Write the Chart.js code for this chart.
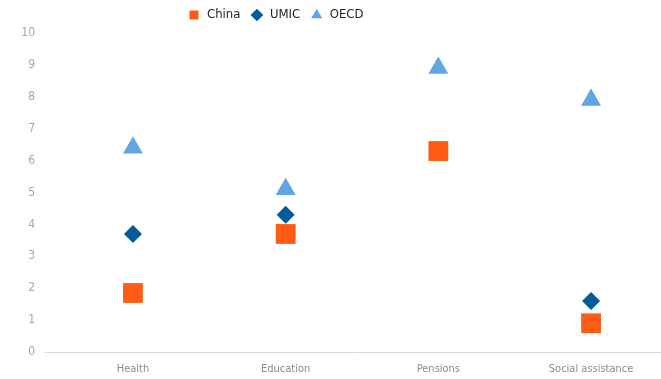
<!DOCTYPE html>
<html>
<head>
<meta charset="utf-8">
<script src="https://cdn.jsdelivr.net/npm/chart.js@4/dist/chart.umd.min.js"></script>
<style>
  html, body { margin: 0; padding: 0; background: #fff; }
  #wrap { width: 661px; height: 379px; }
</style>
</head>
<body>
<div id="wrap"><canvas id="chart"></canvas></div>
<script>
// Spending by function, per cent of GDP
const categories = ["Health", "Education", "Pensions", "Social assistance"]
const china = [1.85, 3.7, 6.3, 0.9]
const umic = [3.7, 4.3, null, 1.6]
const oecd = [6.4, 5.1, 8.9, 7.9]
const yTicks = [0, 1, 2, 3, 4, 5, 6, 7, 8, 9, 10]

const labelFont = "'DejaVu Sans Condensed', 'Liberation Sans', Arial, sans-serif"

// index -> {x, y} pairs for the linear category axis
const toPoints = values => values.map((v, i) => ({ x: i, y: v }))

// nudge the legend left of the canvas centre and a touch up
const legendShift = {
  id: 'legendShift',
  afterLayout(chart) {
    const legend = chart.legend
    if (!legend) return
    legend.left -= 55
    legend.right -= 55
    legend.top -= 1.5
    legend.bottom -= 1.5
  }
}

new Chart(document.getElementById('chart'), {
  type: 'scatter',
  data: {
    datasets: [{
      label: 'China',
      data: toPoints(china),
      pointStyle: 'rect',
      pointRadius: 14,
      pointHoverRadius: 14,
      backgroundColor: '#ff5b16',
      borderColor: '#ff5b16',
      borderWidth: 0
    }, {
      label: 'UMIC',
      data: toPoints(umic),
      pointStyle: 'rectRot',
      pointRadius: 9,
      pointHoverRadius: 9,
      backgroundColor: '#005d99',
      borderColor: '#005d99',
      borderWidth: 0
    }, {
      label: 'OECD',
      data: toPoints(oecd),
      pointStyle: 'triangle',
      pointRadius: 11.5,
      pointHoverRadius: 11.5,
      backgroundColor: '#62a5e4',
      borderColor: '#62a5e4',
      borderWidth: 0
    }]
  },
  options: {
    responsive: true,
    maintainAspectRatio: false,
    animation: false,
    layout: {
      autoPadding: false,
      padding: 0
    },
    plugins: {
      tooltip: { enabled: false },
      legend: {
        display: true,
        position: 'top',
        labels: {
          usePointStyle: true,
          boxHeight: 9,
          padding: 10,
          color: '#222',
          font: { family: labelFont, size: 13 }
        }
      }
    },
    scales: {
      x: {
        type: 'linear',
        min: -0.576,
        max: 3.458,
        afterBuildTicks: scale => {
          scale.ticks = categories.map((c, i) => ({ value: i }))
        },
        afterFit: scale => {
          scale.height = 27
        },
        ticks: {
          padding: 11,
          color: '#8a8a8a',
          font: { family: labelFont, size: 11 },
          callback: value => categories[value]
        },
        grid: { display: false, drawTicks: false },
        border: { display: true, color: '#d9d9d9', width: 1 }
      },
      y: {
        min: 0,
        max: 10,
        afterBuildTicks: scale => {
          scale.ticks = yTicks.map(v => ({ value: v }))
        },
        afterFit: scale => {
          scale.width = 45
        },
        ticks: {
          padding: 10,
          color: '#a6a6a6',
          font: { family: labelFont, size: 12 }
        },
        grid: { display: false, drawTicks: false },
        border: { display: false }
      }
    }
  },
  plugins: [legendShift]
})
</script>
</body>
</html>
